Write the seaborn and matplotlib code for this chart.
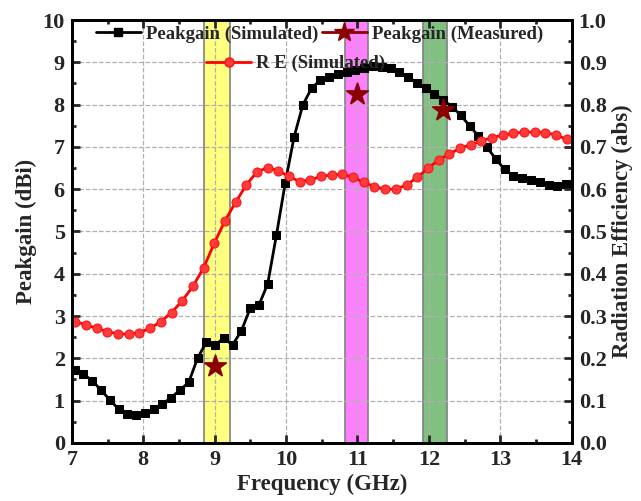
import numpy as np
import seaborn as sns
from matplotlib import pyplot as plt
from matplotlib.lines import Line2D
from matplotlib.ticker import MultipleLocator

# Peakgain (Simulated), dBi
freq_gain = np.linspace(7.04, 13.92, 57)
gain_sim = [1.73, 1.63, 1.47, 1.25, 1.02, 0.80, 0.69, 0.65, 0.70, 0.80,
            0.92, 1.07, 1.25, 1.43, 2.00, 2.38, 2.32, 2.47, 2.32, 2.65,
            3.18, 3.26, 3.76, 4.92, 6.15, 7.23, 7.99, 8.39, 8.58, 8.65,
            8.72, 8.76, 8.82, 8.86, 8.91, 8.90, 8.86, 8.76, 8.65, 8.52,
            8.39, 8.25, 8.11, 7.95, 7.75, 7.50, 7.26, 6.99, 6.71, 6.47,
            6.31, 6.26, 6.22, 6.16, 6.10, 6.08, 6.12]

# Radiation efficiency (Simulated), abs
freq_re = np.linspace(7.05, 13.93, 47)
re_sim = [0.287, 0.279, 0.271, 0.263, 0.258, 0.257, 0.261, 0.271, 0.287, 0.308,
          0.336, 0.370, 0.414, 0.472, 0.525, 0.569, 0.610, 0.641, 0.651, 0.644,
          0.630, 0.618, 0.622, 0.630, 0.634, 0.635, 0.628, 0.616, 0.606, 0.600,
          0.600, 0.610, 0.628, 0.649, 0.669, 0.683, 0.697, 0.705, 0.714, 0.722,
          0.728, 0.732, 0.735, 0.735, 0.734, 0.728, 0.718]

# Peakgain (Measured)
freq_meas = [9.0, 11.0, 12.2]
gain_meas = [1.82, 8.26, 7.87]

# highlighted bands (GHz)
band_lo = [8.85, 10.83, 11.92]
band_hi = [9.21, 11.15, 12.25]
band_colors = ['#ffff80', '#ff80ff', '#80c080']

sns.set_style('ticks')
plt.rcParams['font.family'] = ['Liberation Serif', 'DejaVu Serif']
plt.rcParams['font.weight'] = 'bold'
plt.rcParams['axes.labelweight'] = 'bold'

fig, ax = plt.subplots(figsize=(6.41, 5.01), dpi=100)
fig.subplots_adjust(left=0.112, right=0.892, bottom=0.116, top=0.96)

for lo, hi, c in zip(band_lo, band_hi, band_colors):
    ax.axvspan(lo, hi, facecolor=c, edgecolor='#808080', linewidth=1.2, zorder=0.2)

ax.set_axisbelow(True)
ax.grid(True, linestyle='--', color='#b0b0b0', linewidth=0.9)

sns.lineplot(x=freq_gain, y=gain_sim, ax=ax, color='black', marker='s',
             markersize=6, linewidth=2, markeredgecolor='black', legend=False, zorder=3)
sns.scatterplot(x=freq_meas, y=gain_meas, ax=ax, marker='*', s=260,
                color='#8b0000', edgecolor='#8b0000', legend=False, zorder=4)

ax.set_xlim(7, 14)
ax.set_ylim(0, 10)
ax.xaxis.set_major_locator(MultipleLocator(1))
ax.xaxis.set_minor_locator(MultipleLocator(0.5))
ax.yaxis.set_major_locator(MultipleLocator(1))
ax.yaxis.set_minor_locator(MultipleLocator(0.5))
ax.set_xlabel('Frequency (GHz)', fontsize=16.5, labelpad=3)
ax.set_ylabel('Peakgain (dBi)', fontsize=16.5, labelpad=4)
ax.tick_params(which='both', direction='in', top=True, right=False, width=2, labelsize=16)
ax.tick_params(axis='x', pad=5)
ax.tick_params(axis='y', pad=5)
ax.tick_params(which='major', length=6)
ax.tick_params(which='minor', length=3)

ax2 = ax.twinx()
sns.lineplot(x=freq_re, y=re_sim, ax=ax2, color='red', marker='o', markersize=6.5,
             linewidth=2, markeredgecolor='#ff1010', markerfacecolor='#ff3a3a', legend=False)
ax2.set_ylim(0, 1)
ax2.yaxis.set_major_locator(MultipleLocator(0.1))
ax2.yaxis.set_minor_locator(MultipleLocator(0.05))
ax2.set_ylabel('Radiation Efficiency (abs)', fontsize=16.5, labelpad=4)
ax2.tick_params(which='both', direction='in', width=2, labelsize=16, pad=5)
ax2.tick_params(which='major', length=6)
ax2.tick_params(which='minor', length=3)

for a in (ax, ax2):
    for s in a.spines.values():
        s.set_linewidth(2)
        s.set_color('black')

h_sim = Line2D([], [], color='black', marker='s', markersize=6, linewidth=2)
h_meas = Line2D([], [], color='#8b0000', marker='*', markersize=15, linewidth=2)
h_re = Line2D([], [], color='red', marker='o', markersize=6.5, linewidth=2,
              markerfacecolor='#ff3a3a', markeredgecolor='#ff1010')

leg1 = ax2.legend([h_sim, h_meas], ['Peakgain (Simulated)', 'Peakgain (Measured)'],
                  loc='upper left', bbox_to_anchor=(0.014, 1.027), ncol=2, frameon=False,
                  fontsize=13.5, handlelength=2.4, handletextpad=0.27, columnspacing=0.2)
ax2.add_artist(leg1)
ax2.legend([h_re], ['R E (Simulated)'], loc='upper left', bbox_to_anchor=(0.235, 0.957),
           frameon=False, fontsize=13.5, handlelength=2.4, handletextpad=0.27)

plt.savefig('out.png', dpi=100)
plt.close()
